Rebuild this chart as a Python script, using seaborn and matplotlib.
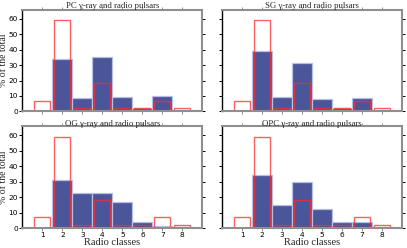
"""
Radio class distributions of simulated gamma-ray + radio pulsars
for four emission models, compared with the observed radio sample.
"""

import matplotlib
matplotlib.use("Agg")
import matplotlib.pyplot as plt
import numpy as np
import pandas as pd
import seaborn as sns

# Data: % of the total in each radio class
radio_classes = [1, 2, 3, 4, 5, 6, 7, 8]
model_names = ["PC", "SG", "OG", "OPC"]
observed = [7, 59, 2.3, 18.3, 2.3, 2.3, 7, 2.3]
pc_values = [0.5, 33.8, 8.8, 35.2, 9.2, 2.4, 9.8, 0.5]
sg_values = [0.5, 39.0, 9.4, 31.6, 8.1, 2.0, 8.8, 0.5]
og_values = [0.0, 31.0, 22.6, 22.8, 17.0, 3.8, 1.6, 0.8]
opc_values = [0.0, 34.5, 15.2, 29.7, 12.5, 3.8, 3.8, 0.4]

BLUE = "#4a5699"
BLUE_EDGE = "#b8bfe6"
RED = "#ff2a2a"
GREY = "#8f8f8f"
SERIF = ["Liberation Serif", "DejaVu Serif"]

sns.set_style("white")
plt.rcParams["font.family"] = ["DejaVu Sans"]

fig = plt.figure(figsize=(4.07, 2.48), dpi=100)

left_x = [0.055, 0.546]
bottom_y = [0.551, 0.080]
heights = [0.410, 0.413]
width = 0.442

panels = [
    ("PC", pc_values, 0, 0),
    ("SG", sg_values, 0, 1),
    ("OG", og_values, 1, 0),
    ("OPC", opc_values, 1, 1),
]

for name, values, row, col in panels:
    ax = fig.add_axes([left_x[col], bottom_y[row], width, heights[row]])
    df = pd.DataFrame({"cls": radio_classes, "model": values, "obs": observed})

    sns.barplot(data=df, x="cls", y="model", native_scale=True, width=1.0,
                color=BLUE, saturation=1, errorbar=None,
                edgecolor=BLUE_EDGE, linewidth=0.9, ax=ax)
    sns.barplot(data=df, x="cls", y="obs", native_scale=True, width=0.8,
                fill=False, color=RED, saturation=1, errorbar=None,
                linewidth=1.0, alpha=0.75, ax=ax)

    ax.set_xlim(0, 9)
    ax.set_ylim(0, 66)
    ax.set_xticks(radio_classes)
    ax.set_yticks(np.arange(0, 61, 10))

    for side in ["top", "right", "bottom"]:
        ax.spines[side].set_color(GREY)
        ax.spines[side].set_linewidth(1.5)
    ax.spines["left"].set_color("black")
    ax.spines["left"].set_linewidth(1.0)

    ax.tick_params(axis="both", direction="out", length=2.5, width=0.7,
                   labelsize=5.3, pad=0.6, colors="black")
    ax.tick_params(axis="x", top=True, bottom=True,
                   labelbottom=(row == 1), color=GREY)
    ax.tick_params(axis="y", left=True, right=True, labelleft=(col == 0))
    for t in ax.yaxis.get_ticklines()[1::2]:
        t.set_color(GREY)

    ax.set_title(f"{name} γ-ray and radio pulsars", fontsize=6.3,
                 family=SERIF, pad=0)
    if row == 1:
        ax.set_xlabel("Radio classes", fontsize=7.5, family=SERIF)
        ax.xaxis.set_label_coords(0.5, -0.1)
    else:
        ax.set_xlabel("")
    if col == 0:
        ax.set_ylabel("% of the total", fontsize=7, family=SERIF)
        ax.yaxis.set_label_coords(-0.078, 0.5)
    else:
        ax.set_ylabel("")

fig.savefig("out.png", dpi=100)
